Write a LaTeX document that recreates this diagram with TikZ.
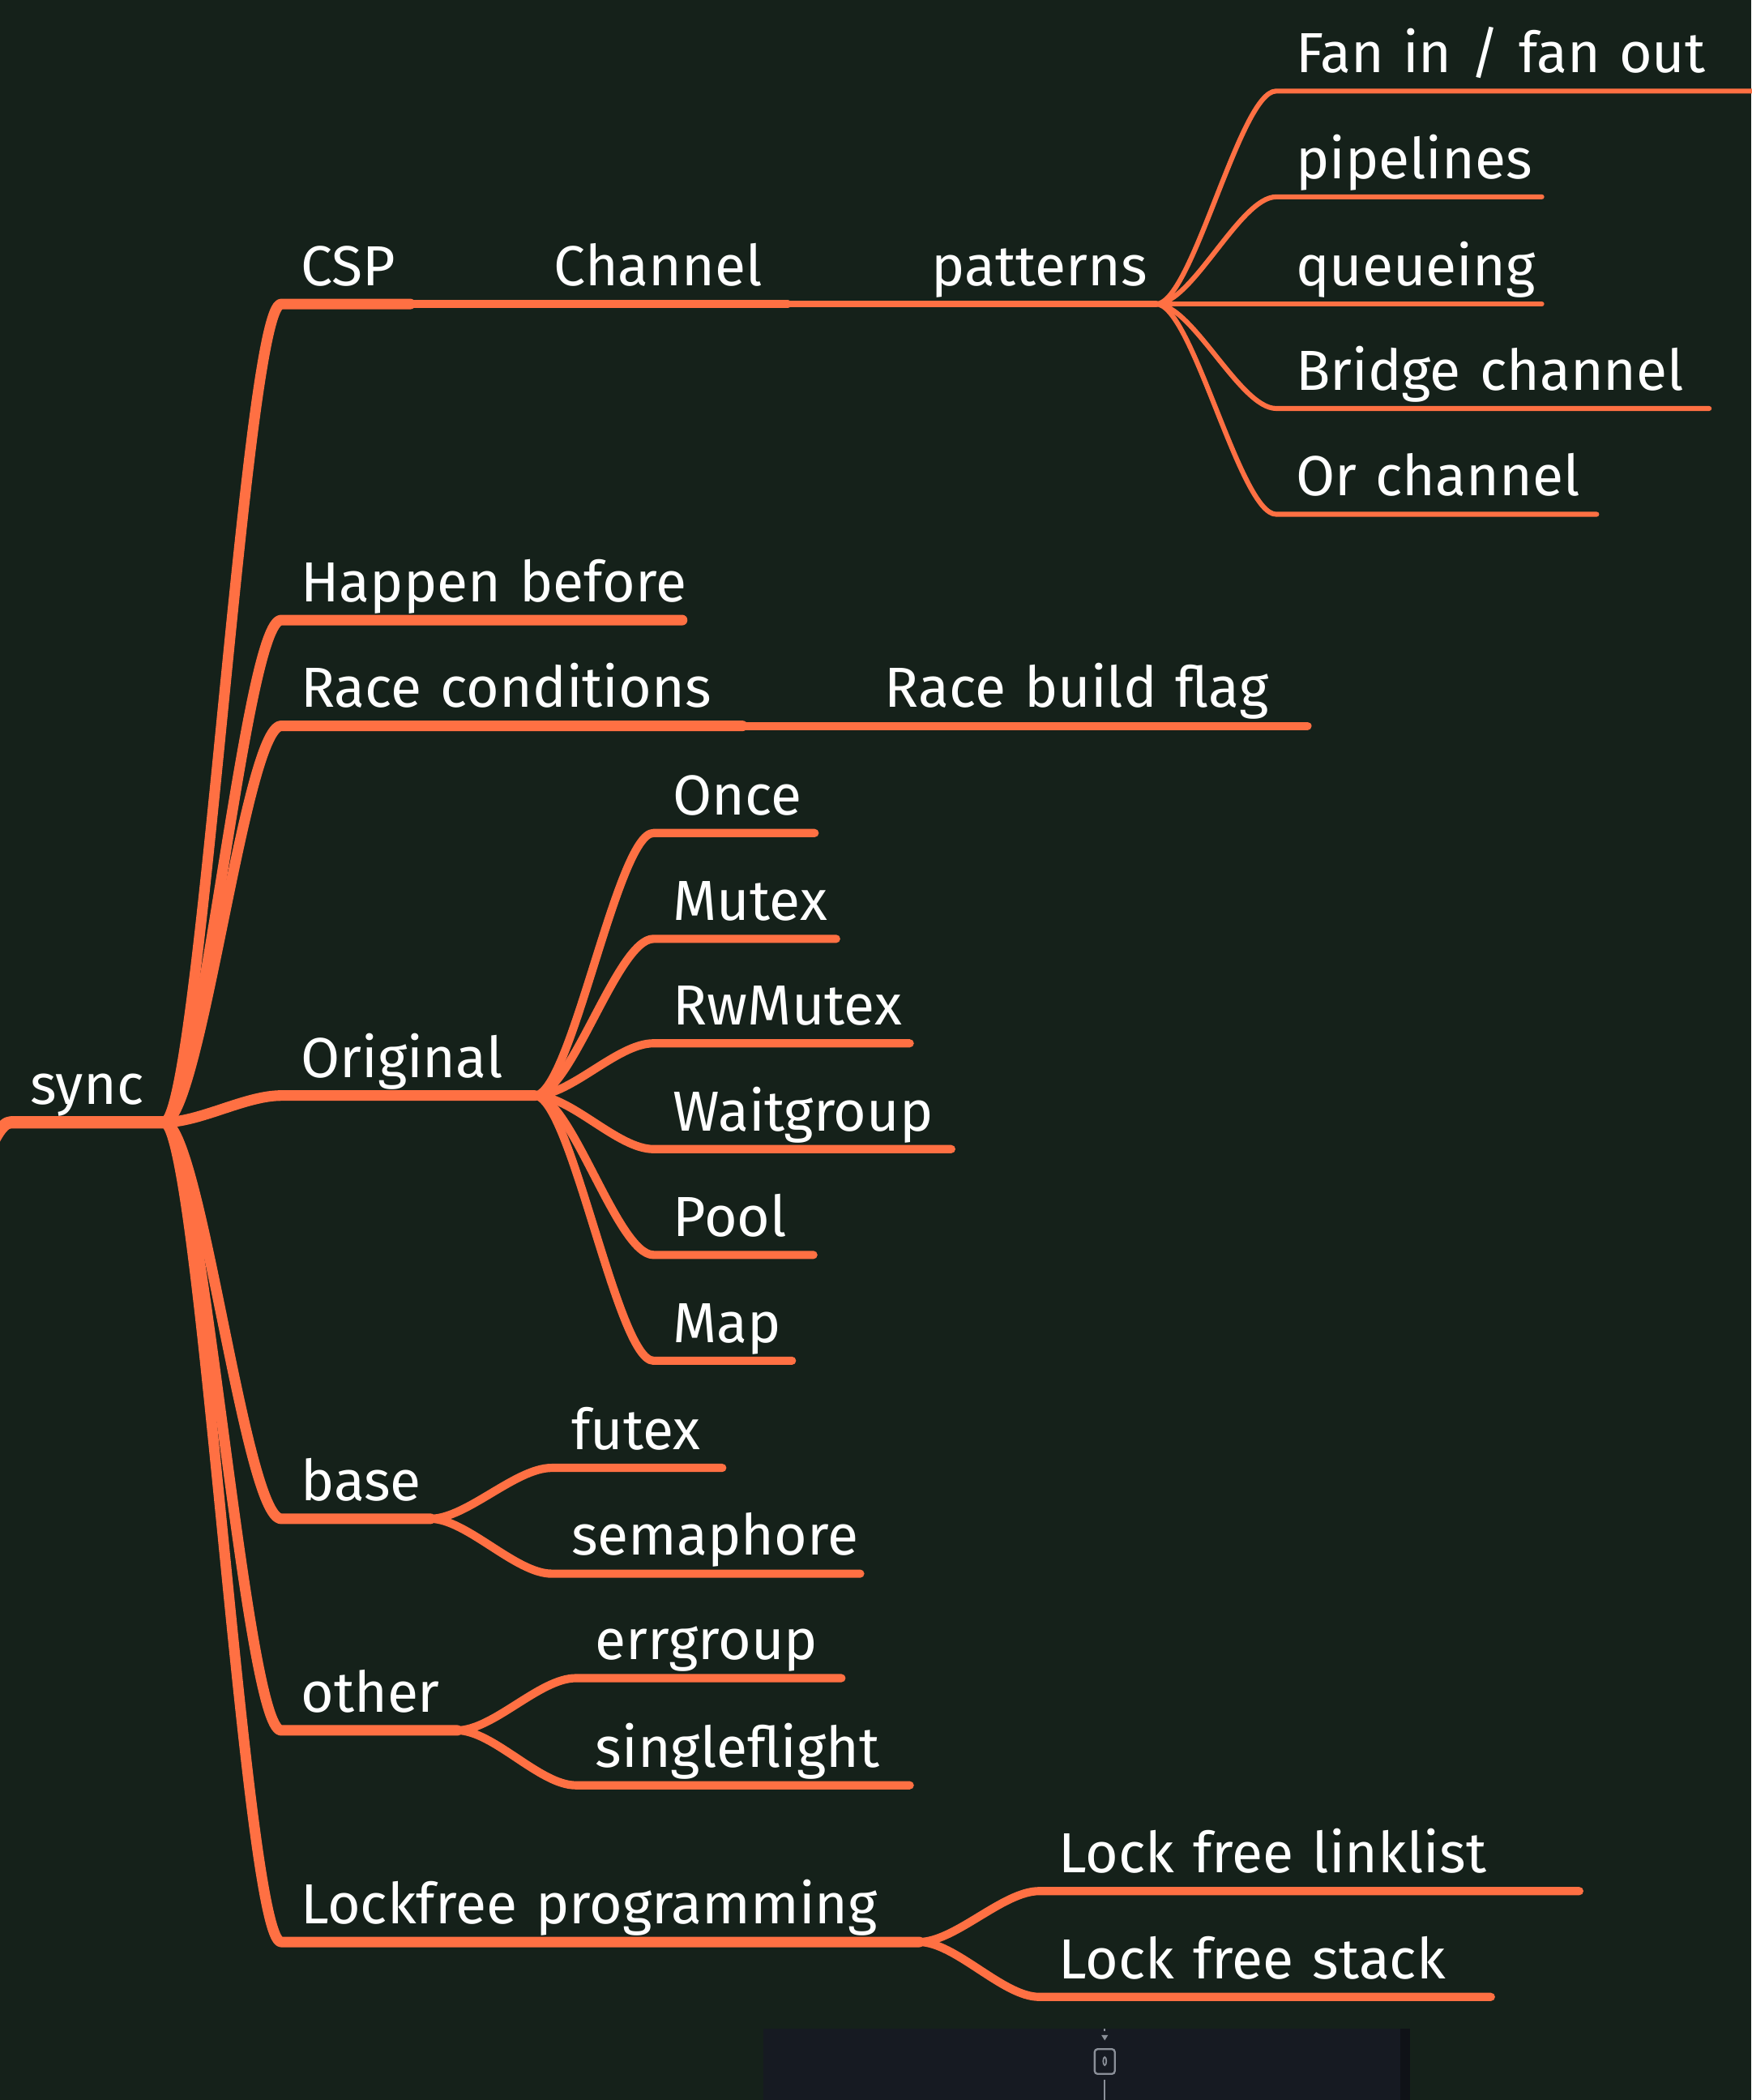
\documentclass[tikz,border=0pt]{standalone}
\usepackage{fontspec}
\setmainfont{Fira Sans}
\usetikzlibrary{calc}
\definecolor{board}{HTML}{15211A}
\definecolor{stroke}{HTML}{FF7043}
\definecolor{panel}{HTML}{161A22}
\definecolor{panelrim}{HTML}{0F1217}
\definecolor{icon}{HTML}{8B9099}
\pgfdeclarelayer{boardlayer}
\pgfdeclarelayer{lines}
\pgfsetlayers{boardlayer,lines,main}

\begin{document}
\begin{tikzpicture}[
  topic/.style = {anchor = south west, inner xsep = .14cm, inner ysep = .13cm, text depth = 0pt,
    align = left, text = white, font = \fontsize{12}{14}\selectfont,
    execute at begin node = {\hyphenpenalty = 10000\relax}},
  branch/.style = {to path = {.. controls ($(\tikztostart) + (.27, 0)$) and %
    ($(\tikztotarget) + (-.27, 0)$) .. (\tikztotarget)}},
  w0/.style = {draw = stroke, line width = 2.6, line cap = round, line join = round},
  w1/.style = {w0, line width = 2.25},
  w2/.style = {w0, line width = 1.75},
  w3/.style = {w0, line width = 1.4},
  w4/.style = {w0, line width = 1.05}
]
\useasboundingbox (0, 0) rectangle (13.08, -15.68);
% root
\node[topic, text width = .85cm] (sync) at (.08, -8.38) {sync};
\coordinate (up) at (-.82, -10.6);
% first level
\node[topic, text width = .67cm] (csp) at (2.1, -2.27) {CSP};
\node[topic, text width = 2.70cm] (happen) at (2.1, -4.63) {Happen~before};
\node[topic, text width = 3.15cm] (racecond) at (2.1, -5.42) {Race~conditions};
\node[topic, text width = 1.60cm] (original) at (2.1, -8.18) {Original};
\node[topic, text width = .82cm] (base) at (2.1, -11.34) {base};
\node[topic, text width = 1.02cm] (other) at (2.1, -12.92) {other};
\node[topic, text width = 4.47cm] (lockfree) at (2.1, -14.5) {Lockfree~programming};
% CSP chain
\node[topic, text width = 1.60cm] (channel) at (3.99, -2.27) {Channel};
\node[topic, text width = 1.53cm] (patterns) at (6.81, -2.27) {patterns};
\node[topic, text width = 3.39cm] (fanin) at (9.53, -.68) {Fan~in~/~fan~out};
\node[topic, text width = 1.69cm] (pipelines) at (9.53, -1.47) {pipelines};
\node[topic, text width = 1.69cm] (queueing) at (9.53, -2.27) {queueing};
\node[topic, text width = 2.94cm] (bridge) at (9.53, -3.05) {Bridge~channel};
\node[topic, text width = 2.10cm] (orchan) at (9.53, -3.84) {Or~channel};
% race
\node[topic, text width = 3.01cm] (raceflag) at (6.46, -5.42) {Race~build~flag};
% original
\node[topic, text width = .91cm] (once) at (4.88, -6.22) {Once};
\node[topic, text width = 1.07cm] (mutex) at (4.88, -7.01) {Mutex};
\node[topic, text width = 1.62cm] (rwmutex) at (4.88, -7.79) {RwMutex};
\node[topic, text width = 1.93cm] (waitgroup) at (4.88, -8.58) {Waitgroup};
\node[topic, text width = .90cm] (pool) at (4.88, -9.37) {Pool};
\node[topic, text width = .74cm] (map) at (4.88, -10.16) {Map};
% base, other, lockfree
\node[topic, text width = .98cm] (futex) at (4.12, -10.96) {futex};
\node[topic, text width = 2.01cm] (semaphore) at (4.12, -11.75) {semaphore};
\node[topic, text width = 1.69cm] (errgroup) at (4.30, -12.53) {errgroup};
\node[topic, text width = 2.20cm] (singleflight) at (4.30, -13.33) {singleflight};
\node[topic, text width = 3.74cm] (linklist) at (7.76, -14.12) {Lock~free~linklist};
\node[topic, text width = 3.08cm] (stack) at (7.76, -14.91) {Lock~free~stack};

\begin{pgfonlayer}{boardlayer}
  \fill[board] (0, 0) rectangle (13.08, -15.68);
  \fill[panel] (5.70, -15.15) rectangle (10.53, -15.68);
  \fill[panelrim] (10.46, -15.15) rectangle (10.53, -15.68);
  \draw[icon, line width = .3, dash pattern = on .4pt off .6pt] (8.25, -15.15) -- (8.25, -15.18);
  \fill[icon] (8.225, -15.195) -- (8.275, -15.195) -- (8.25, -15.235) -- cycle;
  \draw[icon, line width = .4, rounded corners = .6pt] (8.175, -15.30) rectangle (8.325, -15.485);
  \draw[icon, line width = .3] (8.25, -15.39) ellipse[x radius = .012, y radius = .03];
  \draw[icon, line width = .4] (8.25, -15.53) -- (8.25, -15.68);
\end{pgfonlayer}

\begin{pgfonlayer}{lines}
  \draw[w0] (up) to[branch] (sync.south west) -- (sync.south east);
  \foreach \n in {csp, happen, racecond, original, base, other, lockfree}
    \draw[w1] (sync.south east) to[branch] (\n.south west) -- (\n.south east);
  \draw[w2] (csp.south east) -- (channel.south west) -- (channel.south east);
  \draw[w3] (channel.south east) -- (patterns.south west) -- (patterns.south east);
  \foreach \n in {fanin, pipelines, queueing, bridge, orchan}
    \draw[w4] (patterns.south east) to[branch] (\n.south west) -- (\n.south east);
  \draw[w2] (racecond.south east) -- (raceflag.south west) -- (raceflag.south east);
  \foreach \n in {once, mutex, rwmutex, waitgroup, pool, map}
    \draw[w2] (original.south east) to[branch] (\n.south west) -- (\n.south east);
  \foreach \n in {futex, semaphore}
    \draw[w2] (base.south east) to[branch] (\n.south west) -- (\n.south east);
  \foreach \n in {errgroup, singleflight}
    \draw[w2] (other.south east) to[branch] (\n.south west) -- (\n.south east);
  \foreach \n in {linklist, stack}
    \draw[w2] (lockfree.south east) to[branch] (\n.south west) -- (\n.south east);
\end{pgfonlayer}
\end{tikzpicture}
\end{document}
